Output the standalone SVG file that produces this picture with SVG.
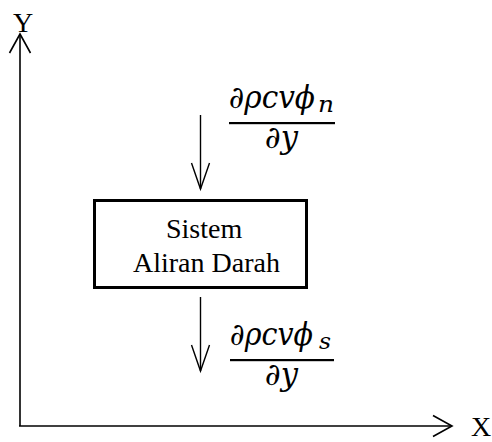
<svg xmlns="http://www.w3.org/2000/svg" width="492" height="442" viewBox="0 0 492 442">
<style>
.ax{stroke:#000;stroke-width:1.6;fill:none}
.ar{stroke:#000;stroke-width:1.4;fill:none}
.lbl{font-family:"Liberation Serif","Times New Roman",serif;font-size:28px;fill:#000}
.m{font-family:"DejaVu Serif",serif;font-style:italic;font-size:31px;fill:#000}
.sub{font-size:22px}
</style>
<defs>
<marker id="hd" markerUnits="userSpaceOnUse" markerWidth="30" markerHeight="22" viewBox="-28 -11 30 22" refX="0" refY="0" orient="auto" overflow="visible">
<path d="M-26,-9 L0,0 L-26,9" fill="none" stroke="#000" stroke-width="1.4"/>
</marker>
<marker id="ha" markerUnits="userSpaceOnUse" markerWidth="24" markerHeight="24" viewBox="-22 -12 24 24" refX="0" refY="0" orient="auto" overflow="visible">
<path d="M-19,-10.5 L0,0 L-19,10.5" fill="none" stroke="#000" stroke-width="1.6"/>
</marker>
</defs>
<rect width="492" height="442" fill="#fff"/>
<g id="connectors">
<path class="ax" d="M20,426 L20,34" marker-end="url(#ha)"/>
<path class="ax" d="M19,426 L452,426" marker-end="url(#ha)"/>
<path class="ar" d="M200.5,115 L200.5,189" marker-end="url(#hd)"/>
<path class="ar" d="M200.5,297 L200.5,371" marker-end="url(#hd)"/>
</g>
<g id="axis-y">
<text class="lbl" x="13" y="32">Y</text>
</g>
<g id="axis-x">
<text class="lbl" x="471" y="436">X</text>
</g>
<g id="system">
<rect x="94.5" y="200.5" width="212" height="87" fill="#fff" stroke="#000" stroke-width="3"/>
<text class="lbl" x="166" y="238">Sistem</text>
<text class="lbl" x="133" y="272">Aliran Darah</text>
</g>
<g id="flux-n">
<text class="m" x="229" y="108"><tspan textLength="86" lengthAdjust="spacingAndGlyphs">∂ρcvϕ</tspan><tspan class="sub" x="318" y="112" textLength="16" lengthAdjust="spacingAndGlyphs">n</tspan></text>
<rect x="229" y="122" width="106" height="2.2" fill="#000"/>
<text class="m" x="265" y="148" textLength="33" lengthAdjust="spacingAndGlyphs">∂y</text>
</g>
<g id="flux-s">
<text class="m" x="230" y="345"><tspan textLength="83" lengthAdjust="spacingAndGlyphs">∂ρcvϕ</tspan><tspan class="sub" x="319" y="349" textLength="12" lengthAdjust="spacingAndGlyphs">s</tspan></text>
<rect x="230" y="359" width="104" height="2.2" fill="#000"/>
<text class="m" x="265" y="385" textLength="33" lengthAdjust="spacingAndGlyphs">∂y</text>
</g>
</svg>
